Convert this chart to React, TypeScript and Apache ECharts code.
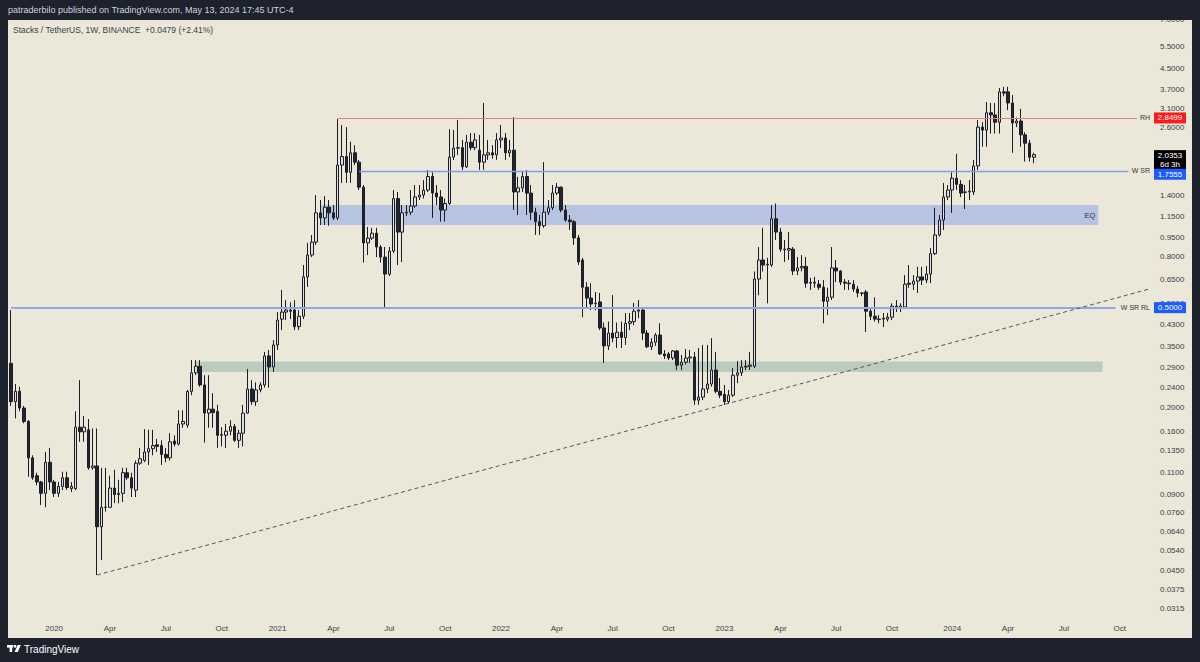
import React, { useEffect, useRef } from "react";
import * as echarts from "echarts";

const FONT = "'Liberation Sans', Arial, sans-serif";

// weekly categories (Monday of each week), incl. empty future weeks
const firstWeek = "2019-10-21";
const weekCount = 266;
const categories: string[] = Array.from({ length: weekCount }, (_, i) =>
  new Date(Date.parse(firstWeek + "T00:00:00Z") + i * 7 * 86400000).toISOString().slice(0, 10)
);

// candles: [open, high, low, close]
const w2019 = [
  [0.3, 0.489, 0.203, 0.211], [0.211, 0.248, 0.181, 0.232], [0.232, 0.242, 0.193, 0.199],
  [0.199, 0.203, 0.173, 0.176], [0.176, 0.178, 0.106, 0.126], [0.126, 0.129, 0.103, 0.105],
  [0.107, 0.11, 0.098, 0.101], [0.101, 0.102, 0.0817, 0.091], [0.091, 0.133, 0.08, 0.121],
  [0.121, 0.138, 0.0937, 0.101], [0.101, 0.103, 0.088, 0.091],
];
const w2020 = [
  [0.091, 0.101, 0.088, 0.097], [0.097, 0.111, 0.0937, 0.105], [0.105, 0.111, 0.094, 0.096],
  [0.095, 0.101, 0.092, 0.097], [0.095, 0.193, 0.0937, 0.167], [0.167, 0.257, 0.146, 0.16],
  [0.16, 0.185, 0.146, 0.167], [0.163, 0.18, 0.113, 0.115], [0.115, 0.165, 0.113, 0.117],
  [0.117, 0.165, 0.043, 0.067], [0.067, 0.115, 0.0493, 0.08], [0.08, 0.115, 0.077, 0.0802],
  [0.08, 0.107, 0.08, 0.0955], [0.0955, 0.113, 0.0832, 0.09], [0.09, 0.103, 0.083, 0.091],
  [0.091, 0.115, 0.084, 0.11], [0.11, 0.115, 0.103, 0.105], [0.105, 0.11, 0.088, 0.0955],
  [0.0937, 0.123, 0.088, 0.12], [0.12, 0.138, 0.118, 0.125], [0.123, 0.164, 0.121, 0.133],
  [0.133, 0.163, 0.118, 0.137], [0.137, 0.163, 0.129, 0.141], [0.142, 0.15, 0.133, 0.14],
  [0.141, 0.148, 0.118, 0.13], [0.13, 0.138, 0.121, 0.126], [0.126, 0.158, 0.123, 0.146],
  [0.147, 0.155, 0.14, 0.143], [0.143, 0.195, 0.141, 0.172], [0.172, 0.195, 0.166, 0.176],
  [0.17, 0.235, 0.166, 0.232], [0.232, 0.309, 0.224, 0.275], [0.275, 0.309, 0.269, 0.292],
  [0.292, 0.309, 0.242, 0.246], [0.246, 0.269, 0.145, 0.19], [0.19, 0.269, 0.166, 0.197],
  [0.197, 0.228, 0.166, 0.191], [0.193, 0.205, 0.138, 0.155], [0.155, 0.167, 0.14, 0.156],
  [0.155, 0.172, 0.138, 0.161], [0.161, 0.178, 0.155, 0.168], [0.168, 0.172, 0.146, 0.148],
  [0.148, 0.163, 0.138, 0.158], [0.158, 0.205, 0.14, 0.19], [0.19, 0.285, 0.189, 0.237],
  [0.237, 0.257, 0.205, 0.211], [0.211, 0.252, 0.203, 0.235], [0.235, 0.252, 0.23, 0.246],
  [0.246, 0.333, 0.24, 0.321], [0.321, 0.339, 0.24, 0.29], [0.29, 0.371, 0.277, 0.355],
  [0.355, 0.48, 0.339, 0.446],
];
const w2021 = [
  [0.45, 0.588, 0.407, 0.48], [0.48, 0.536, 0.446, 0.489], [0.489, 0.525, 0.45, 0.484],
  [0.489, 0.536, 0.407, 0.42], [0.42, 0.489, 0.407, 0.462], [0.462, 0.739, 0.45, 0.663],
  [0.663, 0.906, 0.605, 0.81], [0.81, 0.974, 0.795, 0.912], [0.912, 1.405, 0.888, 1.193],
  [1.193, 1.342, 1.067, 1.139], [1.139, 1.39, 1.067, 1.257], [1.257, 1.342, 1.06, 1.193],
  [1.193, 1.282, 1.117, 1.139], [1.139, 2.82, 1.117, 1.85], [1.85, 2.67, 1.57, 2.0],
  [2.0, 2.62, 1.57, 1.73], [1.73, 2.29, 1.57, 2.07], [2.07, 2.22, 1.85, 1.9],
  [1.9, 1.937, 1.471, 1.51], [1.51, 1.54, 0.757, 0.905], [0.905, 1.048, 0.81, 0.946],
  [0.946, 1.04, 0.93, 0.99], [0.99, 1.04, 0.795, 0.872], [0.872, 0.888, 0.757, 0.795],
  [0.795, 0.872, 0.5, 0.68], [0.68, 0.872, 0.668, 0.84], [0.84, 1.471, 0.826, 1.36],
  [1.36, 1.445, 0.739, 1.0], [1.0, 1.282, 0.76, 1.193], [1.193, 1.282, 1.16, 1.2],
  [1.2, 1.471, 1.17, 1.27], [1.27, 1.54, 1.25, 1.38], [1.38, 1.54, 1.342, 1.405],
  [1.405, 1.61, 1.36, 1.47], [1.47, 1.767, 1.445, 1.665], [1.665, 1.73, 1.14, 1.43],
  [1.43, 1.54, 1.282, 1.38], [1.38, 1.471, 1.1, 1.224], [1.224, 1.36, 1.1, 1.3],
  [1.3, 2.57, 1.282, 1.99], [1.99, 2.55, 1.937, 2.16], [2.16, 2.8, 2.03, 2.17],
  [2.17, 2.33, 1.767, 1.82], [1.82, 2.44, 1.8, 2.28], [2.28, 2.48, 2.12, 2.17],
  [2.17, 2.48, 2.12, 2.33], [2.12, 2.44, 1.77, 1.9], [1.9, 3.27, 1.77, 2.03],
  [2.03, 2.33, 1.94, 2.07], [2.07, 2.22, 1.96, 2.03], [2.03, 2.48, 1.94, 2.33],
  [2.33, 2.67, 2.16, 2.37],
];
const w2022 = [
  [2.37, 2.48, 1.94, 2.07], [2.07, 2.33, 1.99, 2.12], [2.12, 2.87, 1.224, 1.445],
  [1.445, 1.66, 1.17, 1.5], [1.5, 1.74, 1.445, 1.665], [1.665, 1.767, 1.17, 1.43],
  [1.43, 1.54, 1.117, 1.2], [1.2, 1.25, 0.974, 1.1], [1.1, 1.17, 0.974, 1.06],
  [1.06, 1.9, 1.04, 1.2], [1.2, 1.342, 1.17, 1.25], [1.25, 1.54, 1.224, 1.43],
  [1.43, 1.57, 1.405, 1.51], [1.51, 1.52, 1.2, 1.224], [1.224, 1.282, 1.1, 1.117],
  [1.117, 1.17, 1.019, 1.1], [1.1, 1.117, 0.888, 0.948], [0.948, 0.974, 0.739, 0.76],
  [0.774, 0.79, 0.458, 0.603], [0.603, 0.632, 0.498, 0.546], [0.546, 0.626, 0.489, 0.517],
  [0.52, 0.577, 0.489, 0.519], [0.527, 0.572, 0.407, 0.415], [0.415, 0.436, 0.301, 0.352],
  [0.352, 0.44, 0.339, 0.396], [0.396, 0.561, 0.364, 0.378], [0.38, 0.436, 0.345, 0.399],
  [0.399, 0.44, 0.345, 0.38], [0.38, 0.476, 0.355, 0.433], [0.433, 0.476, 0.407, 0.44],
  [0.44, 0.522, 0.426, 0.484], [0.484, 0.536, 0.454, 0.489], [0.489, 0.503, 0.371, 0.396],
  [0.396, 0.407, 0.345, 0.349], [0.349, 0.378, 0.339, 0.364], [0.364, 0.396, 0.352, 0.389],
  [0.389, 0.433, 0.324, 0.327], [0.327, 0.339, 0.312, 0.321], [0.327, 0.333, 0.309, 0.315],
  [0.315, 0.339, 0.309, 0.336], [0.336, 0.339, 0.282, 0.295], [0.295, 0.324, 0.282, 0.303],
  [0.303, 0.342, 0.297, 0.315], [0.315, 0.339, 0.301, 0.318], [0.318, 0.333, 0.205, 0.214],
  [0.214, 0.345, 0.205, 0.22], [0.22, 0.355, 0.214, 0.237], [0.237, 0.355, 0.228, 0.248],
  [0.248, 0.378, 0.242, 0.282], [0.282, 0.333, 0.228, 0.232], [0.232, 0.262, 0.218, 0.224],
  [0.226, 0.246, 0.205, 0.211],
];
const w2023 = [
  [0.211, 0.235, 0.207, 0.224], [0.224, 0.287, 0.22, 0.269], [0.269, 0.306, 0.25, 0.275],
  [0.275, 0.309, 0.267, 0.29], [0.29, 0.309, 0.282, 0.292], [0.292, 0.333, 0.282, 0.295],
  [0.292, 0.697, 0.287, 0.65], [0.65, 0.872, 0.56, 0.774], [0.774, 1.04, 0.697, 0.739],
  [0.739, 0.79, 0.52, 0.745], [0.739, 1.282, 0.727, 1.13], [1.13, 1.3, 0.93, 1.0],
  [1.0, 1.04, 0.835, 0.855], [0.855, 0.93, 0.76, 0.85], [0.848, 1.0, 0.774, 0.86],
  [0.855, 0.872, 0.674, 0.7], [0.7, 0.795, 0.674, 0.72], [0.72, 0.81, 0.697, 0.73],
  [0.73, 0.795, 0.6, 0.626], [0.626, 0.657, 0.588, 0.63], [0.626, 0.663, 0.6, 0.632],
  [0.62, 0.644, 0.588, 0.603], [0.603, 0.644, 0.433, 0.53], [0.53, 0.6, 0.467, 0.55],
  [0.55, 0.872, 0.536, 0.72], [0.72, 0.774, 0.632, 0.7], [0.7, 0.706, 0.615, 0.632],
  [0.632, 0.65, 0.588, 0.626], [0.626, 0.644, 0.588, 0.623], [0.62, 0.644, 0.577, 0.593],
  [0.593, 0.61, 0.55, 0.572], [0.572, 0.577, 0.556, 0.57], [0.577, 0.588, 0.4, 0.484],
  [0.484, 0.498, 0.446, 0.462], [0.462, 0.55, 0.44, 0.45], [0.45, 0.467, 0.433, 0.448],
  [0.45, 0.476, 0.418, 0.454], [0.45, 0.476, 0.44, 0.458], [0.458, 0.52, 0.446, 0.507],
  [0.507, 0.536, 0.48, 0.5], [0.5, 0.52, 0.48, 0.507], [0.503, 0.674, 0.498, 0.62],
  [0.626, 0.739, 0.6, 0.62], [0.62, 0.674, 0.588, 0.638], [0.638, 0.727, 0.572, 0.663],
  [0.663, 0.727, 0.615, 0.644], [0.644, 0.733, 0.626, 0.68], [0.68, 0.865, 0.626, 0.82],
  [0.82, 1.25, 0.81, 0.974], [0.974, 1.17, 0.96, 1.117], [1.117, 1.57, 1.019, 1.38],
  [1.38, 1.54, 1.342, 1.471],
];
const w2024 = [
  [1.471, 1.73, 1.193, 1.64], [1.64, 2.05, 1.471, 1.55], [1.55, 1.612, 1.38, 1.43],
  [1.44, 1.54, 1.236, 1.445], [1.445, 1.612, 1.342, 1.455], [1.445, 1.937, 1.405, 1.835],
  [1.835, 2.796, 1.767, 2.62], [2.62, 2.74, 2.19, 2.55], [2.55, 3.3, 2.19, 2.99],
  [2.99, 3.27, 2.47, 2.93], [2.93, 3.27, 2.47, 2.74], [2.74, 3.75, 2.47, 3.62],
  [3.62, 3.79, 3.48, 3.58], [3.62, 3.79, 3.06, 3.27], [3.27, 3.52, 2.07, 2.72],
  [2.72, 2.86, 2.62, 2.77], [2.77, 3.1, 2.19, 2.44], [2.44, 2.5, 1.91, 2.26],
  [2.26, 2.33, 1.91, 1.9874], [1.9874, 2.07, 1.88, 2.0353],
];
const candles = [...w2019, ...w2020, ...w2021, ...w2022, ...w2023, ...w2024];

const priceTicks = [7, 5.5, 4.5, 3.7, 3.1, 2.6, 1.4, 1.15, 0.95, 0.8, 0.65, 0.52, 0.43, 0.35, 0.29,
  0.24, 0.2, 0.16, 0.135, 0.11, 0.09, 0.076, 0.064, 0.054, 0.045, 0.0375, 0.0315];
const quarterNames: Record<number, string> = { 3: "Apr", 6: "Jul", 9: "Oct" };

// levels
const rangeHigh = 2.8499;
const weeklySR = 1.7555;
const weeklySRRL = 0.5;
const lastPrice = 2.0353;
const eqZone = [1.067, 1.282];
const greenZone = [0.277, 0.305];
const trendLine = [{ week: 20, price: 0.043 }, { week: 265, price: 0.594 }];

function quarterStart(cat: string): number | null {
  const t = Date.parse(cat + "T00:00:00Z");
  for (let k = 0; k < 7; k++) {
    const d = new Date(t + k * 86400000);
    if (d.getUTCDate() === 1 && d.getUTCMonth() % 3 === 0) return d.getUTCMonth() * 10000 + d.getUTCFullYear();
  }
  return null;
}

export default function App() {
  const ref = useRef<HTMLDivElement>(null);
  useEffect(() => {
    const chart = echarts.init(ref.current!, null, { renderer: "svg" });
    const dark = "#1e222d";
    const hLine = (from: number, to: number, v: number, color: string, width: number) => [
      { coord: [from, v], lineStyle: { color, width, type: "solid" }, label: { show: false } },
      { coord: [to, v] },
    ];
    const option: any = {
      animation: false,
      backgroundColor: "#ebe8da",
      grid: { left: 9, width: 1143, top: 19, height: 598 },
      xAxis: {
        type: "category",
        data: categories,
        boundaryGap: true,
        axisLine: { show: false },
        axisTick: { show: false },
        splitLine: { show: false },
        axisLabel: {
          color: "#3a3d45",
          fontSize: 8,
          fontFamily: FONT,
          margin: 7,
          interval: (_i: number, v: string) => quarterStart(v) !== null,
          formatter: (v: string) => {
            const q = quarterStart(v);
            if (q === null) return "";
            const m = Math.floor(q / 10000);
            return m === 0 ? String(q % 10000) : quarterNames[m];
          },
        },
      },
      yAxis: {
        type: "log",
        position: "right",
        min: 0.02926,
        max: 7.0645,
        axisLine: { show: false },
        axisTick: { show: false },
        splitLine: { show: false },
        axisLabel: {
          customValues: priceTicks,
          color: "#3a3d45",
          fontSize: 8,
          fontFamily: FONT,
          margin: 8,
          formatter: (v: number) => Number(v).toFixed(4),
        },
      },
      series: [
        {
          type: "candlestick",
          barWidth: 3,
          data: candles.map(([o, h, l, c]) => [o, c, l, h]),
          itemStyle: {
            color: "#dcdee4",
            color0: "#23262f",
            borderColor: "#1b1d24",
            borderColor0: "#1b1d24",
            borderWidth: 1,
          },
          markArea: {
            silent: true,
            data: [
              [
                {
                  coord: [72, eqZone[1]],
                  itemStyle: { color: "rgba(110,145,235,0.42)" },
                  label: { show: true, position: "insideRight", formatter: "EQ", color: "#333", fontSize: 7.5, fontFamily: FONT, distance: 3 },
                },
                { coord: [253, eqZone[0]] },
              ],
              [
                { coord: [43, greenZone[1]], itemStyle: { color: "rgba(116,163,147,0.4)" }, label: { show: false } },
                { coord: [254, greenZone[0]] },
              ],
            ],
          },
          markLine: {
            silent: true,
            symbol: ["none", "none"],
            data: [
              hLine(76, 262, rangeHigh, "#ec7d72", 1),
              hLine(81, 260, weeklySR, "#7c9ee8", 1.3),
              hLine(0, 257, weeklySRRL, "#8ea8e6", 2),
              [
                { coord: [trendLine[0].week, trendLine[0].price], lineStyle: { color: "#555", width: 1, type: [4, 3] }, label: { show: false } },
                { coord: [trendLine[1].week, trendLine[1].price] },
              ],
            ],
          },
        },
      ],
    };
    chart.setOption(option);

    const yPix = (v: number) => chart.convertToPixel({ yAxisIndex: 0 }, v) as number;
    const tag = (v: number, text: string, fill: string, shift = 0) => {
      const y = yPix(v) + shift;
      return [
        { type: "rect", z: 100, shape: { x: 1154, y: y - 5.5, width: 32, height: 11 }, style: { fill } },
        { type: "text", z: 101, x: 1170, y, style: { text, fill: "#fff", fontSize: 8, fontFamily: FONT, align: "center", verticalAlign: "middle" } },
      ];
    };
    const lineName = (v: number, text: string) => ({
      type: "text", z: 95, x: 1150, y: yPix(v),
      style: { text, fill: "#333", fontSize: 7, fontFamily: FONT, align: "right", verticalAlign: "middle" },
    });
    const yl = yPix(lastPrice);
    const graphics: any[] = [
      { type: "rect", z: 90, shape: { x: 0, y: 0, width: 1200, height: 20 }, style: { fill: dark } },
      { type: "rect", z: 90, shape: { x: 0, y: 0, width: 8, height: 662 }, style: { fill: dark } },
      { type: "rect", z: 90, shape: { x: 1192, y: 0, width: 8, height: 662 }, style: { fill: dark } },
      { type: "rect", z: 90, shape: { x: 0, y: 638, width: 1200, height: 24 }, style: { fill: dark } },
      { type: "text", z: 91, x: 8, y: 10, style: { text: "patraderbilo published on TradingView.com, May 13, 2024 17:45 UTC-4", fill: "#d1d4dc", fontSize: 9, fontFamily: FONT, verticalAlign: "middle" } },
      { type: "text", z: 91, x: 13, y: 30, style: { text: "Stacks / TetherUS, 1W, BINANCE  +0.0479 (+2.41%)", fill: "#3a3d45", fontSize: 8.5, fontFamily: FONT, verticalAlign: "middle" } },
      // TradingView logo
      { type: "rect", z: 91, shape: { x: 7, y: 645, width: 6, height: 2.6 }, style: { fill: "#fff" } },
      { type: "rect", z: 91, shape: { x: 9.6, y: 645, width: 2.6, height: 7 }, style: { fill: "#fff" } },
      { type: "circle", z: 91, shape: { cx: 15, cy: 646.3, r: 1.4 }, style: { fill: "#fff" } },
      { type: "polygon", z: 91, shape: { points: [[17.6, 645], [20.8, 645], [17.8, 652], [14.6, 652]] }, style: { fill: "#fff" } },
      { type: "text", z: 91, x: 24, y: 649, style: { text: "TradingView", fill: "#ffffff", fontSize: 10, fontFamily: FONT, verticalAlign: "middle" } },
      lineName(rangeHigh, "RH"),
      lineName(weeklySR, "W SR"),
      lineName(weeklySRRL, "W SR RL"),
      ...tag(rangeHigh, "2.8499", "#ff1a1a"),
      { type: "rect", z: 100, shape: { x: 1154, y: yl - 4.5, width: 32, height: 20 }, style: { fill: "#000" } },
      { type: "text", z: 101, x: 1170, y: yl + 0.5, style: { text: lastPrice.toFixed(4), fill: "#fff", fontSize: 8, fontFamily: FONT, align: "center", verticalAlign: "middle" } },
      { type: "text", z: 101, x: 1170, y: yl + 10, style: { text: "6d 3h", fill: "#fff", fontSize: 8, fontFamily: FONT, align: "center", verticalAlign: "middle" } },
      ...tag(weeklySR, "1.7555", "#1a5cff", 3.5),
      ...tag(weeklySRRL, "0.5000", "#1a5cff"),
    ];
    chart.setOption({ graphic: graphics });
    return () => chart.dispose();
  }, []);
  return <div ref={ref} style={{ position: "absolute", left: 0, top: 0, width: 1200, height: 662 }} />;
}
